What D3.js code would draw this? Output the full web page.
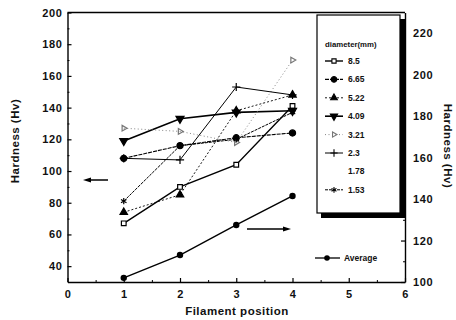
<!DOCTYPE html>
<html>
<head>
<meta charset="utf-8">
<script src="https://cdn.jsdelivr.net/npm/d3@7"></script>
<style>
  body { margin: 0; background: #fff; }
  svg text { font-family: "Liberation Sans", Arial, sans-serif; font-weight: bold; fill: #111; }
</style>
</head>
<body>
<svg id="chart" width="456" height="320"></svg>
<script>
// filament positions and hardness values (left axis, Hv)
const positions = [1, 2, 3, 4];
const diameters = ['8.5', '6.65', '5.22', '4.09', '3.21', '2.3', '1.78', '1.53'];
const hv85 = [67, 90, 104, 141];
const hv665 = [108, 116, 121, 124];
const hv522 = [74, 85, 138, 148];
const hv409 = [119, 133, 137, 138];
const hv321 = [127, 125, 118, 170];
const hv23 = [108, 107, 153, 148];
const hv178 = [];           // listed in the legend, no curve drawn
const hv153 = [81, 116, 120, 137];
// average hardness (right axis, Hv)
const average = [102, 113, 127.5, 141.5];

const xTicks = [0, 1, 2, 3, 4, 5, 6];
const leftTicks = [40, 60, 80, 100, 120, 140, 160, 180, 200];
const rightTicks = [100, 120, 140, 160, 180, 200, 220];

const svg = d3.select('#chart');

const x = d3.scaleLinear().domain([0, 6]).range([67.5, 405]);
const yL = d3.scaleLinear().domain([30, 200]).range([282, 12.5]);
const yR = d3.scaleLinear().domain([100, 230]).range([282, 12.5]);

// minor ticks
svg.append('g')
    .attr('transform', 'translate(0,282)')
    .call(d3.axisBottom(x).tickValues(d3.range(0.5, 6, 1)).tickSize(-2).tickFormat(''))
    .call(g => g.select('.domain').remove());
svg.append('g')
    .attr('transform', 'translate(67.5,0)')
    .call(d3.axisLeft(yL).tickValues([50, 70, 90, 110, 130, 150, 170, 190]).tickSize(-2).tickFormat(''))
    .call(g => g.select('.domain').remove());
svg.append('g')
    .attr('transform', 'translate(405,0)')
    .call(d3.axisRight(yR).tickValues([110, 130, 150, 170, 190, 210]).tickSize(-2).tickFormat(''))
    .call(g => g.select('.domain').remove());

// main axes
const xAxis = svg.append('g')
    .attr('transform', 'translate(0,282)')
    .call(d3.axisBottom(x).tickValues(xTicks).tickFormat(d3.format('d')).tickSize(-4).tickSizeOuter(0).tickPadding(8));
const lAxis = svg.append('g')
    .attr('transform', 'translate(67.5,0)')
    .call(d3.axisLeft(yL).tickValues(leftTicks).tickSize(-4).tickSizeOuter(0).tickPadding(5));
const rAxis = svg.append('g')
    .attr('transform', 'translate(405,0)')
    .call(d3.axisRight(yR).tickValues(rightTicks).tickSize(-4).tickSizeOuter(0).tickPadding(8));

[xAxis, lAxis, rAxis].forEach(g => {
    g.selectAll('text').attr('font-size', 11).style('letter-spacing', '0.6px');
    g.select('.domain').attr('stroke-width', 1.4);
    g.selectAll('.tick line').attr('stroke-width', 1.2);
});

// top frame line
svg.append('line')
    .attr('x1', 67.5).attr('x2', 405)
    .attr('y1', yL(200)).attr('y2', yL(200))
    .attr('stroke', '#000').attr('stroke-width', 1.4);

// axis titles
svg.append('text')
    .attr('transform', 'translate(19,141) rotate(-90)')
    .attr('text-anchor', 'middle')
    .attr('font-size', 11.5)
    .style('letter-spacing', '0.5px')
    .text('Hardness (Hv)');
svg.append('text')
    .attr('transform', 'translate(444,146) rotate(90)')
    .attr('text-anchor', 'middle')
    .attr('font-size', 11.5)
    .style('letter-spacing', '0.5px')
    .text('Hardness (Hv)');
svg.append('text')
    .attr('x', 237).attr('y', 315)
    .attr('text-anchor', 'middle')
    .attr('font-size', 11.5)
    .style('letter-spacing', '0.5px')
    .text('Filament position');

// series styles
const series = [
    { name: diameters[0], values: hv85, dash: null, width: 1.4, sym: d3.symbolSquare, size: 22, fill: '#fff', rot: 0 },
    { name: diameters[1], values: hv665, dash: '4,1', width: 1.1, sym: d3.symbolCircle, size: 30, fill: '#000', rot: 0 },
    { name: diameters[2], values: hv522, dash: '2,2', width: 0.9, sym: d3.symbolTriangle, size: 24, fill: '#000', rot: 0 },
    { name: diameters[3], values: hv409, dash: null, width: 1.6, sym: d3.symbolTriangle, size: 28, fill: '#000', rot: 180 },
    { name: diameters[4], values: hv321, dash: '1,2.5', width: 0.9, sym: d3.symbolTriangle, size: 14, fill: 'none', rot: 90, color: '#777' },
    { name: diameters[5], values: hv23, dash: null, width: 1.0, sym: d3.symbolPlus, size: 24, fill: 'none', rot: 0 },
    { name: diameters[6], values: hv178, dash: null, width: 0, sym: null },
    { name: diameters[7], values: hv153, dash: '3,1', width: 1.0, sym: d3.symbolAsterisk, size: 28, fill: 'none', rot: 0 }
];

const line = d3.line()
    .x((d, i) => x(positions[i]))
    .y(d => yL(d));

series.forEach(s => {
    if (!s.values.length) return;
    const col = s.color || '#000';
    svg.append('path')
        .datum(s.values)
        .attr('d', line)
        .attr('fill', 'none')
        .attr('stroke', col)
        .attr('stroke-width', s.width)
        .attr('stroke-dasharray', s.dash);
    svg.selectAll(null)
        .data(s.values)
        .enter()
        .append('path')
        .attr('transform', (d, i) => 'translate(' + x(positions[i]) + ',' + yL(d) + ') rotate(' + s.rot + ')')
        .attr('d', d3.symbol().type(s.sym).size(s.size))
        .attr('fill', s.fill)
        .attr('stroke', col)
        .attr('stroke-width', 1.2);
});

// average on the right axis
svg.append('path')
    .datum(average)
    .attr('d', d3.line().x((d, i) => x(positions[i])).y(d => yR(d)))
    .attr('fill', 'none')
    .attr('stroke', '#000')
    .attr('stroke-width', 1.4);
svg.selectAll(null)
    .data(average)
    .enter()
    .append('circle')
    .attr('cx', (d, i) => x(positions[i]))
    .attr('cy', d => yR(d))
    .attr('r', 3.2)
    .attr('fill', '#000');

// arrows
function arrow(x1, x2, y) {
    const dir = x2 > x1 ? 1 : -1;
    svg.append('line')
        .attr('x1', x1).attr('x2', x2 - dir * 4)
        .attr('y1', y).attr('y2', y)
        .attr('stroke', '#000').attr('stroke-width', 1.5);
    svg.append('path')
        .attr('d', 'M' + x2 + ',' + y + 'L' + (x2 - dir * 8) + ',' + (y - 2.5) + 'L' + (x2 - dir * 8) + ',' + (y + 2.5) + 'Z')
        .attr('fill', '#000');
}
arrow(108, 83, 180);
arrow(247, 291, 229);

// legend box with shadow
svg.append('rect').attr('x', 321).attr('y', 19).attr('width', 84).attr('height', 199).attr('fill', '#000');
svg.append('rect')
    .attr('x', 317).attr('y', 15).attr('width', 83).attr('height', 198)
    .attr('fill', '#fff').attr('stroke', '#000').attr('stroke-width', 1.2);

svg.append('text')
    .attr('x', 325).attr('y', 47)
    .attr('font-size', 7.8)
    .text('diameter(mm)');

series.forEach((s, i) => {
    const ly = 61 + i * 18.4;
    const col = s.color || '#000';
    if (s.sym) {
        svg.append('line')
            .attr('x1', 325).attr('x2', 343)
            .attr('y1', ly).attr('y2', ly)
            .attr('stroke', col)
            .attr('stroke-width', s.width)
            .attr('stroke-dasharray', s.dash);
        svg.append('path')
            .attr('transform', 'translate(334,' + ly + ') rotate(' + s.rot + ')')
            .attr('d', d3.symbol().type(s.sym).size(s.size * 0.8))
            .attr('fill', s.fill)
            .attr('stroke', col)
            .attr('stroke-width', 1.1);
    }
    svg.append('text')
        .attr('x', 348).attr('y', ly + 3)
        .attr('font-size', 8.5)
        .text(s.name);
});

// average legend
svg.append('line')
    .attr('x1', 315).attr('x2', 340)
    .attr('y1', 258).attr('y2', 258)
    .attr('stroke', '#000').attr('stroke-width', 1.3);
svg.append('circle').attr('cx', 327).attr('cy', 258).attr('r', 2.8).attr('fill', '#000');
svg.append('text')
    .attr('x', 344).attr('y', 261)
    .attr('font-size', 8.5)
    .text('Average');
</script>
</body>
</html>
